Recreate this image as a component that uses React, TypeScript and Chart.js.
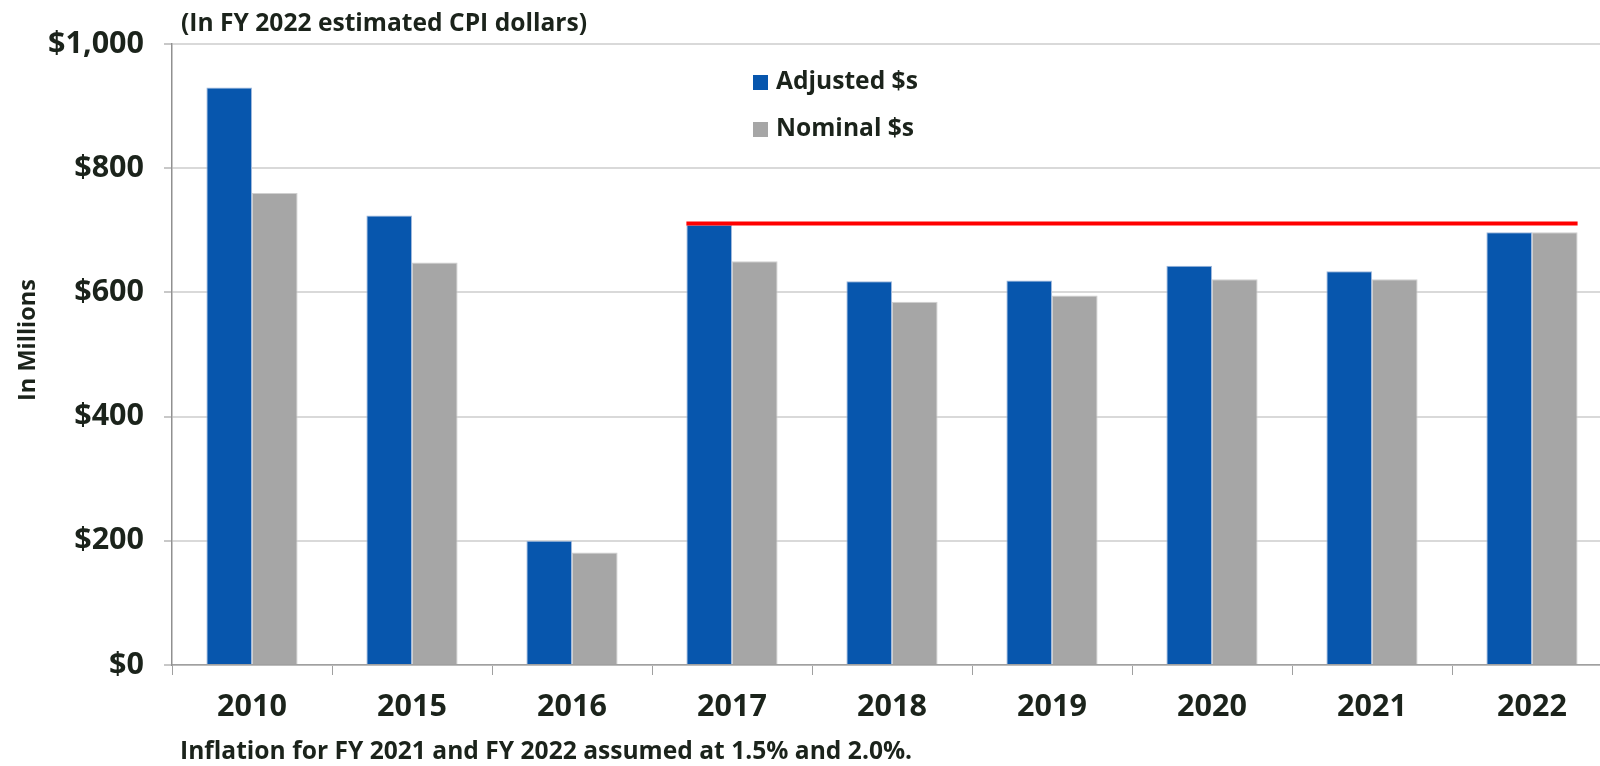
import React, { useEffect, useRef } from "react";
import { Chart, registerables } from "chart.js";

Chart.register(...registerables);

const categories = ["2010", "2015", "2016", "2017", "2018", "2019", "2020", "2021", "2022"];
const adjusted = [930, 724, 200, 709, 618, 619, 643, 634, 697];
const nominal = [760, 648, 181, 650, 585, 595, 621, 621, 697];
const yTickValues = [0, 200, 400, 600, 800, 1000];
const benchmarkValue = 711;
const benchmarkFrom = 3;
const benchmarkTo = 8;

const seriesNames = ["Adjusted $s", "Nominal $s"];
const titleText = "(In FY 2022 estimated CPI dollars)";
const footText = "Inflation for FY 2021 and FY 2022 assumed at 1.5% and 2.0%.";
const yTitle = "In Millions";

const BLUE = "#0756ad";
const GRAY = "#a6a6a6";
const TEXT = "#1b231b";
const FONT = "'Open Sans', 'DejaVu Sans', sans-serif";

const extrasPlugin = {
  id: "extras",
  afterDatasetsDraw(chart: any) {
    const ctx = chart.ctx;
    const y = chart.scales.y;
    const m0 = chart.getDatasetMeta(0);
    const m1 = chart.getDatasetMeta(1);
    const b0: any = m0.data[benchmarkFrom];
    const b1: any = m1.data[benchmarkTo];
    const x1 = b0.x - b0.width / 2;
    const x2 = b1.x + b1.width / 2;
    const yy = y.getPixelForValue(benchmarkValue);
    ctx.save();
    ctx.strokeStyle = "#ff0000";
    ctx.lineWidth = 4;
    ctx.beginPath();
    ctx.moveTo(x1, yy);
    ctx.lineTo(x2, yy);
    ctx.stroke();
    ctx.restore();
  },
  afterDraw(chart: any) {
    const ctx = chart.ctx;
    ctx.save();
    ctx.fillStyle = TEXT;
    ctx.textBaseline = "middle";
    ctx.textAlign = "left";
    // title
    ctx.font = `bold 24.6px ${FONT}`;
    ctx.fillText(titleText, 181, 24);
    // footnote
    ctx.font = `bold 24.6px ${FONT}`;
    ctx.fillText(footText, 180, 752);
    // legend
    const colors = [BLUE, GRAY];
    const ys = [82, 129];
    ctx.font = `bold 24.6px ${FONT}`;
    seriesNames.forEach((n, i) => {
      ctx.fillStyle = colors[i];
      ctx.fillRect(753, ys[i] - 7, 15, 15);
      ctx.fillStyle = TEXT;
      ctx.fillText(n, 776, ys[i]);
    });
    // y title
    ctx.translate(28, 340);
    ctx.rotate(-Math.PI / 2);
    ctx.textAlign = "center";
    ctx.font = `bold 23.5px ${FONT}`;
    ctx.fillText(yTitle, 0, 0);
    ctx.restore();
  },
};

export default function App() {
  const ref = useRef<HTMLCanvasElement | null>(null);
  useEffect(() => {
    if (!ref.current) return;
    const chart = new Chart(ref.current, {
      type: "bar",
      data: {
        labels: categories,
        datasets: [
          {
            label: seriesNames[0],
            data: adjusted,
            backgroundColor: BLUE,
            borderColor: "#9fb8dc",
            borderWidth: { top: 1, left: 1, right: 1, bottom: 0 },
            categoryPercentage: 0.57,
            barPercentage: 1,
          },
          {
            label: seriesNames[1],
            data: nominal,
            backgroundColor: GRAY,
            borderColor: "#d0d0d0",
            borderWidth: { top: 1, left: 1, right: 1, bottom: 0 },
            categoryPercentage: 0.57,
            barPercentage: 1,
          },
        ],
      },
      options: {
        responsive: false,
        animation: false,
        layout: { padding: { top: 44, left: 0, right: 0, bottom: 0 } },
        plugins: {
          legend: { display: false },
          tooltip: { enabled: false },
          title: { display: false },
        },
        scales: {
          x: {
            afterFit: (s: any) => {
              s.height = 101;
            },
            grid: {
              display: true,
              drawOnChartArea: false,
              drawTicks: true,
              tickLength: 10,
              color: "#a0a0a0",
              lineWidth: 1,
            },
            border: { display: true, color: "#a0a0a0", width: 1.5 },
            ticks: {
              color: TEXT,
              font: { family: FONT, size: 30.5, weight: "bold" },
              padding: 14,
              maxRotation: 0,
            },
          },
          y: {
            min: 0,
            max: 1000,
            afterFit: (s: any) => {
              s.width = 172;
            },
            afterBuildTicks: (s: any) => {
              s.ticks = yTickValues.map((v) => ({ value: v }));
            },
            grid: {
              color: "#d9d9d9",
              lineWidth: 2,
              drawTicks: true,
              tickLength: 8,
              tickColor: "#c8c8c8",
            },
            border: { display: true, color: "#909090", width: 1.5 },
            ticks: {
              color: TEXT,
              font: { family: FONT, size: 30.5, weight: "bold" },
              padding: 20,
              callback: (v: any) => "$" + Number(v).toLocaleString("en-US"),
            },
          },
        },
      },
      plugins: [extrasPlugin],
    });
    return () => chart.destroy();
  }, []);
  return (
    <div
      style={{
        position: "fixed",
        left: 0,
        top: 0,
        width: 1600,
        height: 766,
        overflow: "hidden",
        background: "#fff",
      }}
    >
      <canvas ref={ref} width={1612} height={766} style={{ display: "block" }} />
    </div>
  );
}
